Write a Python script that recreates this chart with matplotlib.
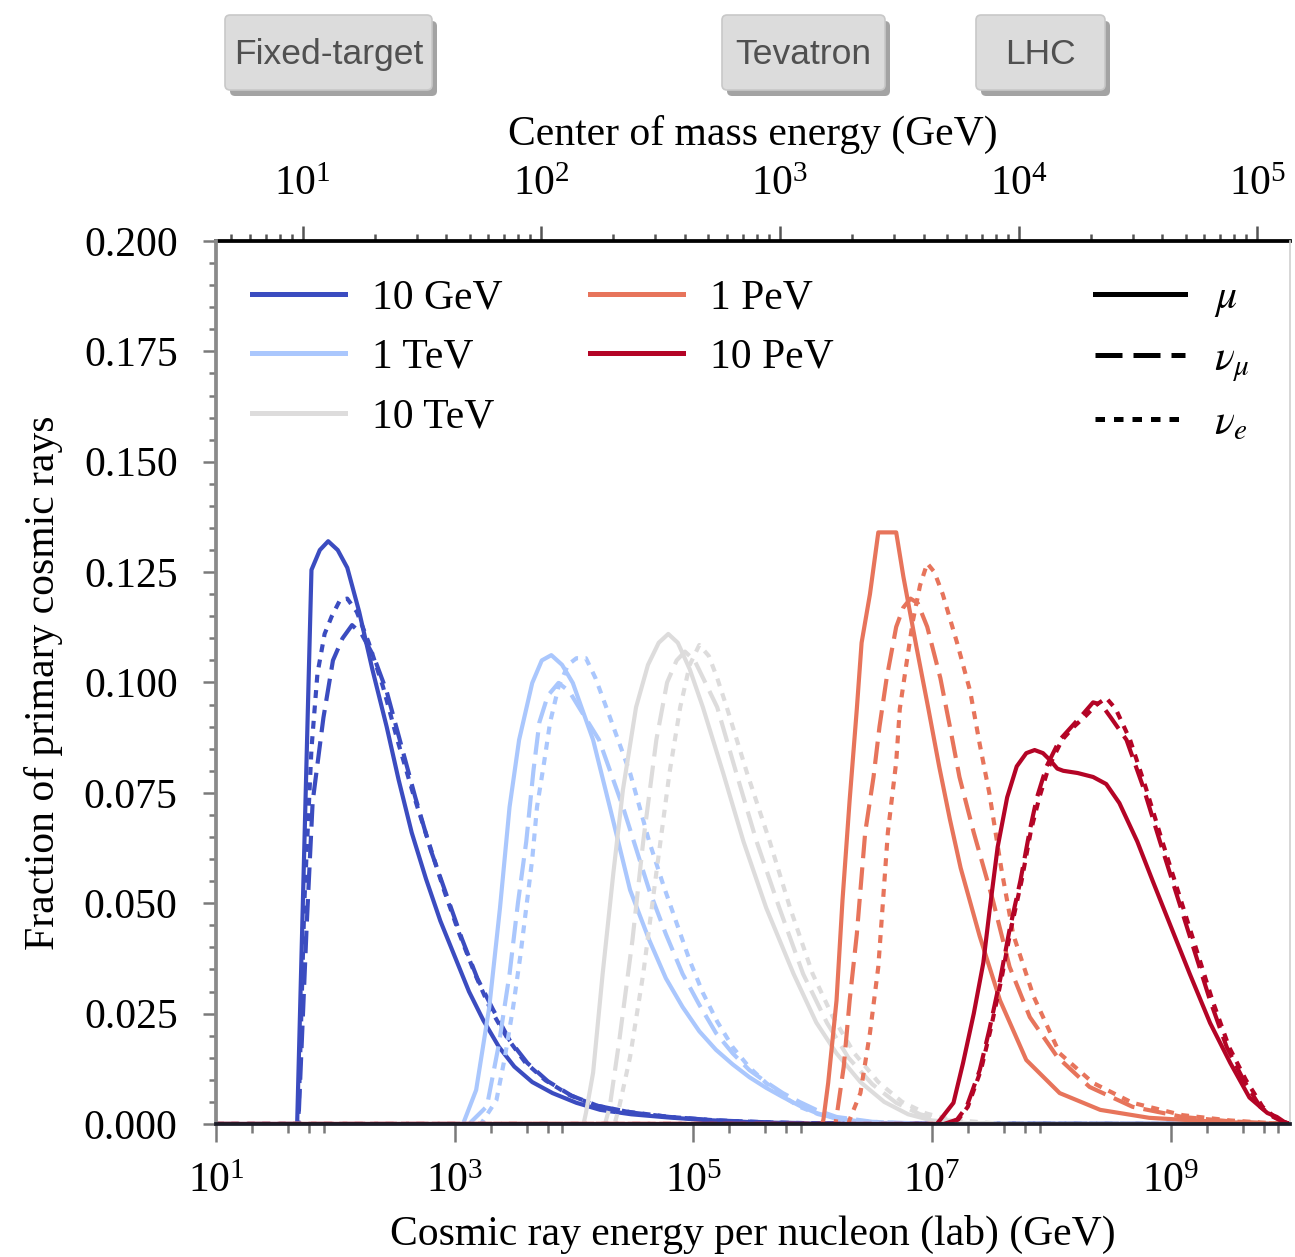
import numpy as np
import matplotlib
matplotlib.use("Agg")
import matplotlib.pyplot as plt
from matplotlib.lines import Line2D
from matplotlib.patches import FancyBboxPatch
from matplotlib.ticker import (FixedLocator, NullFormatter, LogFormatterSciNotation,
                               MultipleLocator, FormatStrFormatter)

plt.rcParams.update({
    "font.family": ["Liberation Serif", "DejaVu Serif"],
    "mathtext.fontset": "stix",
    "font.size": 10,
})

# ---------------------------------------------------------------------------
# Primary cosmic-ray energies (lepton energy bins) and their log10 values
primary_labels = ["10 GeV", "1 TeV", "10 TeV", "1 PeV", "10 PeV"]
primary_log10 = [1, 3, 4, 6, 7]
species = ["mu", "numu", "nue"]
species_labels = [r"$\mu$", r"$\nu_\mu$", r"$\nu_e$"]

# Fraction of primary cosmic rays vs log10(E_primary / GeV)
# --- 10 GeV leptons
logE_10GeV_mu = [1.0, 1.68, 1.80, 1.87, 1.94, 2.02, 2.10, 2.20, 2.31, 2.43, 2.53, 2.64, 2.76, 2.88,
                 3.00, 3.12, 3.24, 3.37, 3.50, 3.65, 3.82, 4.02, 4.22, 4.48, 4.78, 5.10, 5.50, 6.0, 10.0]
frac_10GeV_mu = [0, 0, 0.1255, 0.130, 0.132, 0.130, 0.126, 0.116, 0.103, 0.090, 0.078, 0.066, 0.0555,
                 0.046, 0.038, 0.030, 0.0235, 0.0175, 0.013, 0.0095, 0.007, 0.0048, 0.0032, 0.0022,
                 0.0015, 0.0009, 0.0004, 0.0001, 0]
logE_10GeV_numu = [1.0, 1.69, 1.76, 1.81, 1.90, 1.98, 2.06, 2.14, 2.22, 2.32, 2.43, 2.55, 2.67, 2.80, 2.93,
                   3.06, 3.19, 3.32, 3.46, 3.61, 3.78, 3.98, 4.20, 4.48, 4.80, 5.20, 5.70, 6.2, 10.0]
frac_10GeV_numu = [0, 0, 0.045, 0.073, 0.092, 0.105, 0.110, 0.113, 0.111, 0.106, 0.098, 0.086, 0.074, 0.062,
                   0.052, 0.042, 0.033, 0.026, 0.019, 0.0138, 0.0097, 0.0064, 0.0041, 0.0026, 0.0016,
                   0.0008, 0.0003, 0.0001, 0]
logE_10GeV_nue = [1.0, 1.69, 1.74, 1.80, 1.85, 1.91, 1.97, 2.04, 2.10, 2.18, 2.28, 2.40, 2.52, 2.65, 2.78,
                  2.91, 3.04, 3.17, 3.30, 3.44, 3.59, 3.76, 3.96, 4.18, 4.47, 4.80, 5.20, 5.70, 6.2, 10.0]
frac_10GeV_nue = [0, 0, 0.05, 0.085, 0.102, 0.111, 0.115, 0.1187, 0.119, 0.116, 0.109, 0.099, 0.087, 0.075,
                  0.064, 0.053, 0.043, 0.034, 0.026, 0.0195, 0.014, 0.0099, 0.0066, 0.0042, 0.0027, 0.0016,
                  0.0008, 0.0003, 0.0001, 0]

# --- 1 TeV leptons
logE_1TeV_mu = [1.0, 3.07, 3.18, 3.29, 3.38, 3.46, 3.54, 3.65, 3.73, 3.81, 3.90, 3.99, 4.16, 4.30, 4.47,
                4.63, 4.77, 4.91, 5.05, 5.19, 5.33, 5.47, 5.61, 5.75, 5.90, 6.03, 6.2, 6.5, 7.0, 10.0]
frac_1TeV_mu = [0, 0, 0.0077, 0.0265, 0.049, 0.0718, 0.087, 0.0999, 0.105, 0.1062, 0.104, 0.0999, 0.087,
                0.0718, 0.053, 0.0417, 0.033, 0.0265, 0.021, 0.0168, 0.0135, 0.0106, 0.0082, 0.0061, 0.004,
                0.0025, 0.0012, 0.0003, 0, 0]
logE_1TeV_numu = [1.0, 3.12, 3.27, 3.37, 3.46, 3.53, 3.60, 3.66, 3.71, 3.78, 3.87, 3.96, 4.05, 4.21, 4.41,
                  4.63, 4.77, 4.91, 5.05, 5.19, 5.33, 5.47, 5.61, 5.75, 5.89, 6.03, 6.2, 6.5, 7.0, 10.0]
frac_1TeV_numu = [0, 0, 0.004, 0.018, 0.034, 0.050, 0.064, 0.080, 0.091, 0.097, 0.0999, 0.098, 0.094, 0.087,
                  0.0718, 0.053, 0.043, 0.034, 0.027, 0.0206, 0.016, 0.0122, 0.0095, 0.007, 0.005, 0.0032,
                  0.0016, 0.0005, 0, 0]
logE_1TeV_nue = [1.0, 3.22, 3.35, 3.42, 3.49, 3.55, 3.60, 3.65, 3.69, 3.75, 3.80, 3.87, 3.95, 4.02, 4.10,
                 4.18, 4.30, 4.47, 4.63, 4.75, 4.86, 4.97, 5.08, 5.20, 5.33, 5.47, 5.61, 5.75, 5.89, 6.05,
                 6.3, 6.7, 7.2, 10.0]
frac_1TeV_nue = [0, 0, 0.0054, 0.015, 0.0265, 0.038, 0.049, 0.060, 0.0718, 0.082, 0.091, 0.099, 0.104,
                 0.1055, 0.1055, 0.101, 0.0922, 0.0795, 0.064, 0.054, 0.0455, 0.037, 0.0297, 0.0232, 0.0174,
                 0.0128, 0.0093, 0.0063, 0.0039, 0.0022, 0.0008, 0.0002, 0, 0]

# --- 10 TeV leptons
logE_10TeV_mu = [1.0, 4.08, 4.10, 4.16, 4.24, 4.33, 4.41, 4.52, 4.62, 4.71, 4.79, 4.87, 4.97, 5.08, 5.25,
                 5.42, 5.61, 5.84, 6.03, 6.2, 6.4, 6.6, 6.8, 7.0, 7.3, 7.6, 10.0]
frac_10TeV_mu = [0, 0, 0.0025, 0.0116, 0.034, 0.0569, 0.0757, 0.0944, 0.104, 0.109, 0.111, 0.109, 0.103,
                 0.0944, 0.0795, 0.064, 0.049, 0.034, 0.023, 0.016, 0.0095, 0.005, 0.0022, 0.0008, 0.0002,
                 0, 0]
logE_10TeV_numu = [1.0, 4.26, 4.30, 4.38, 4.49, 4.58, 4.69, 4.78, 4.86, 4.93, 5.01, 5.10, 5.20, 5.36, 5.53,
                   5.72, 5.92, 6.12, 6.3, 6.5, 6.7, 6.9, 7.1, 7.4, 7.7, 10.0]
frac_10TeV_numu = [0, 0, 0.004, 0.019, 0.0417, 0.064, 0.087, 0.100, 0.105, 0.107, 0.105, 0.100, 0.0944,
                   0.0795, 0.064, 0.049, 0.034, 0.0229, 0.015, 0.009, 0.0048, 0.0022, 0.0009, 0.0002, 0, 0]
logE_10TeV_nue = [1.0, 4.34, 4.38, 4.47, 4.58, 4.69, 4.80, 4.89, 4.97, 5.05, 5.13, 5.20, 5.28, 5.45, 5.64,
                  5.81, 6.00, 6.17, 6.35, 6.55, 6.75, 6.95, 7.15, 7.5, 7.8, 10.0]
frac_10TeV_nue = [0, 0, 0.004, 0.0152, 0.034, 0.0569, 0.0795, 0.0944, 0.104, 0.1085, 0.106, 0.101, 0.0944,
                  0.0795, 0.064, 0.049, 0.034, 0.0242, 0.016, 0.0095, 0.005, 0.0024, 0.001, 0.0002, 0, 0]

# --- 1 PeV leptons
logE_1PeV_mu = [1.0, 6.08, 6.09, 6.13, 6.20, 6.25, 6.31, 6.37, 6.41, 6.48, 6.55, 6.70, 6.76, 6.87, 6.97,
                7.06, 7.15, 7.24, 7.40, 7.57, 7.79, 8.07, 8.41, 8.82, 9.39, 9.8, 10.0]
frac_1PeV_mu = [0, 0, 0.001, 0.0093, 0.028, 0.0507, 0.0734, 0.094, 0.109, 0.120, 0.134, 0.134, 0.124,
                0.108, 0.094, 0.081, 0.069, 0.058, 0.0425, 0.028, 0.0145, 0.007, 0.0032, 0.0014, 0.0005,
                0.0001, 0]
logE_1PeV_numu = [1.0, 6.19, 6.20, 6.26, 6.31, 6.37, 6.44, 6.51, 6.56, 6.62, 6.70, 6.76, 6.82, 6.88, 6.96,
                  7.07, 7.15, 7.23, 7.35, 7.51, 7.65, 7.82, 8.05, 8.32, 8.68, 9.10, 9.5, 9.9, 10.0]
frac_1PeV_numu = [0, 0, 0.0016, 0.0129, 0.028, 0.043, 0.066, 0.0786, 0.090, 0.101, 0.1126, 0.117, 0.119,
                  0.118, 0.1126, 0.101, 0.090, 0.0786, 0.066, 0.0507, 0.0356, 0.0242, 0.0152, 0.0084,
                  0.0039, 0.0016, 0.0006, 0.0001, 0]
logE_1PeV_nue = [1.0, 6.30, 6.31, 6.40, 6.48, 6.55, 6.59, 6.63, 6.70, 6.73, 6.79, 6.84, 6.90, 6.96, 7.02,
                 7.09, 7.21, 7.32, 7.40, 7.48, 7.58, 7.68, 7.85, 8.07, 8.35, 8.68, 9.10, 9.5, 9.9, 10.0]
frac_1PeV_nue = [0, 0, 0.001, 0.007, 0.0206, 0.0356, 0.0507, 0.066, 0.082, 0.094, 0.105, 0.114, 0.122,
                 0.127, 0.125, 0.120, 0.109, 0.098, 0.086, 0.075, 0.058, 0.043, 0.029, 0.016, 0.0093,
                 0.0048, 0.002, 0.0008, 0.0001, 0]

# --- 10 PeV leptons
logE_10PeV_mu = [1.0, 7.04, 7.07, 7.18, 7.26, 7.35, 7.43, 7.48, 7.55, 7.63, 7.71, 7.79, 7.86, 7.93, 7.99,
                 8.05, 8.10, 8.22, 8.35, 8.46, 8.57, 8.72, 8.85, 8.99, 9.16, 9.33, 9.50, 9.66, 9.81, 9.89,
                 9.95, 10.0]
frac_10PeV_mu = [0, 0, 0.001, 0.0048, 0.0138, 0.025, 0.0365, 0.0478, 0.0627, 0.074, 0.081, 0.084, 0.0847,
                 0.084, 0.0824, 0.0805, 0.080, 0.0795, 0.0786, 0.077, 0.0727, 0.064, 0.055, 0.0455, 0.034,
                 0.0229, 0.0138, 0.006, 0.0025, 0.0016, 0.0005, 0]
logE_10PeV_numu = [1.0, 7.10, 7.21, 7.29, 7.40, 7.48, 7.57, 7.65, 7.74, 7.82, 7.88, 7.96, 8.07, 8.17, 8.27,
                   8.35, 8.42, 8.50, 8.63, 8.77, 8.91, 9.05, 9.19, 9.33, 9.47, 9.61, 9.75, 9.86, 9.95, 10.0]
frac_10PeV_numu = [0, 0, 0.001, 0.0039, 0.0122, 0.0213, 0.0326, 0.044, 0.055, 0.0666, 0.074, 0.081, 0.087,
                   0.090, 0.093, 0.0955, 0.095, 0.092, 0.087, 0.0763, 0.064, 0.052, 0.040, 0.028, 0.0174,
                   0.010, 0.0039, 0.0016, 0.0004, 0]
logE_10PeV_nue = [1.0, 7.12, 7.22, 7.30, 7.41, 7.49, 7.58, 7.66, 7.75, 7.83, 7.90, 7.98, 8.09, 8.19, 8.29,
                  8.38, 8.46, 8.54, 8.66, 8.79, 8.93, 9.07, 9.21, 9.35, 9.49, 9.63, 9.77, 9.87, 9.95, 10.0]
frac_10PeV_nue = [0, 0, 0.001, 0.0039, 0.0122, 0.0213, 0.0326, 0.044, 0.055, 0.0666, 0.074, 0.081, 0.087,
                  0.090, 0.0925, 0.095, 0.0965, 0.094, 0.087, 0.0763, 0.064, 0.052, 0.040, 0.028, 0.0174,
                  0.010, 0.0039, 0.0016, 0.0004, 0]

curves = {
    ("10 GeV", "mu"): (logE_10GeV_mu, frac_10GeV_mu),
    ("10 GeV", "numu"): (logE_10GeV_numu, frac_10GeV_numu),
    ("10 GeV", "nue"): (logE_10GeV_nue, frac_10GeV_nue),
    ("1 TeV", "mu"): (logE_1TeV_mu, frac_1TeV_mu),
    ("1 TeV", "numu"): (logE_1TeV_numu, frac_1TeV_numu),
    ("1 TeV", "nue"): (logE_1TeV_nue, frac_1TeV_nue),
    ("10 TeV", "mu"): (logE_10TeV_mu, frac_10TeV_mu),
    ("10 TeV", "numu"): (logE_10TeV_numu, frac_10TeV_numu),
    ("10 TeV", "nue"): (logE_10TeV_nue, frac_10TeV_nue),
    ("1 PeV", "mu"): (logE_1PeV_mu, frac_1PeV_mu),
    ("1 PeV", "numu"): (logE_1PeV_numu, frac_1PeV_numu),
    ("1 PeV", "nue"): (logE_1PeV_nue, frac_1PeV_nue),
    ("10 PeV", "mu"): (logE_10PeV_mu, frac_10PeV_mu),
    ("10 PeV", "numu"): (logE_10PeV_numu, frac_10PeV_numu),
    ("10 PeV", "nue"): (logE_10PeV_nue, frac_10PeV_nue),
}

# Accelerator reference labels shown above the figure
accelerators = ["Fixed-target", "Tevatron", "LHC"]

# ---------------------------------------------------------------------------
W, H, DPI = 1295, 1257, 300
fig = plt.figure(figsize=(W / DPI, H / DPI), dpi=DPI)
ax = fig.add_axes([216 / W, 1 - 1124 / H, (1290 - 216) / W, (1124 - 241) / H])

cmap = plt.get_cmap("coolwarm")
lo, hi = min(primary_log10), max(primary_log10)
colors = {lab: cmap((lg - lo) / (hi - lo)) for lab, lg in zip(primary_labels, primary_log10)}
styles = {"mu": "-", "numu": (0, (5.4, 2.2)), "nue": (0, (1.9, 1.8))}

for lab in primary_labels:
    for sp in species:
        lx, fr = curves[(lab, sp)]
        ax.plot(10.0 ** np.asarray(lx), fr, color=colors[lab], ls=styles[sp], lw=1.0)

ax.set_xscale("log")
ax.set_xlim(10, 1e10)
ax.set_ylim(0, 0.2)

# bottom axis ticks: every second decade
ax.xaxis.set_major_locator(FixedLocator([10.0 ** k for k in (1, 3, 5, 7, 9)]))
ax.xaxis.set_major_formatter(LogFormatterSciNotation())
ax.xaxis.set_minor_locator(FixedLocator([m * 10.0 ** k for k in (1, 3, 5, 7, 9) for m in (2, 4, 6, 8)]))
ax.xaxis.set_minor_formatter(NullFormatter())
ax.yaxis.set_major_locator(MultipleLocator(0.025))
ax.yaxis.set_minor_locator(MultipleLocator(0.005))
ax.yaxis.set_major_formatter(FormatStrFormatter("%.3f"))

tick_grey = "#7a7a7a"
ax.tick_params(axis="x", which="major", direction="out", length=4.2, width=0.6, color=tick_grey, pad=5)
ax.tick_params(axis="x", which="minor", direction="out", length=2.2, width=0.6, color=tick_grey)
ax.tick_params(axis="y", which="major", direction="out", length=3.2, width=0.6, color=tick_grey, pad=6)
ax.tick_params(axis="y", which="minor", direction="out", length=1.7, width=0.6, color=tick_grey)
ax.tick_params(top=False, right=False)

ax.spines["left"].set_color("#8a8a8a")
ax.spines["left"].set_linewidth(0.9)
ax.spines["bottom"].set_color("#1c1c28")
ax.spines["bottom"].set_linewidth(0.9)
ax.spines["right"].set_color("#d0d0d0")
ax.spines["right"].set_linewidth(0.4)
ax.spines["top"].set_visible(False)

ax.set_xlabel("Cosmic ray energy per nucleon (lab) (GeV)", labelpad=3.5)
ax.set_ylabel("Fraction of primary cosmic rays", labelpad=5)

# top axis: centre-of-mass energy for a proton target
m_p = 0.938


def lab_to_cm(E):
    return np.sqrt(2.0 * m_p * np.clip(E, 1e-30, None))


def cm_to_lab(s):
    return np.asarray(s) ** 2 / (2.0 * m_p)


sec = ax.secondary_xaxis("top", functions=(lab_to_cm, cm_to_lab))
sec.set_xlabel("Center of mass energy (GeV)", labelpad=5)
sec.tick_params(which="major", direction="out", length=3.6, width=0.6, color="#555555", pad=5.2)
sec.tick_params(which="minor", direction="out", length=1.8, width=0.6, color="#555555")
sec.spines["top"].set_color("black")
sec.spines["top"].set_linewidth(0.9)

# legends
color_handles = [Line2D([], [], color=colors[lab], lw=1.2) for lab in primary_labels]
leg1 = ax.legend(color_handles, primary_labels, ncol=2, loc="upper left",
                 bbox_to_anchor=(0.0335, 0.957), frameon=False, borderpad=0, borderaxespad=0,
                 handlelength=2.23, handletextpad=0.65, columnspacing=2.1, labelspacing=0.50)
ax.add_artist(leg1)
style_handles = [Line2D([], [], color="black", lw=1.2, ls=styles[sp]) for sp in species]
ax.legend(style_handles, species_labels, loc="upper left", bbox_to_anchor=(0.818, 0.957),
          frameon=False, borderpad=0, borderaxespad=0, handlelength=2.16, handletextpad=0.7,
          labelspacing=0.50)

# accelerator boxes above the top axis (pixel extents of each box)
box_px = [(225, 432), (722, 885), (976, 1105)]
box_top, box_bot = 15, 90
for name, (x0, x1) in zip(accelerators, box_px):
    fx0, fx1 = x0 / W, x1 / W
    fy0, fy1 = 1 - box_bot / H, 1 - box_top / H
    shadow = FancyBboxPatch((fx0 + 5 / W, fy0 - 6 / H), fx1 - fx0, fy1 - fy0,
                            boxstyle="round,pad=0,rounding_size=0.004", transform=fig.transFigure,
                            fc="#8c8c8c", ec="none", alpha=0.8)
    box = FancyBboxPatch((fx0, fy0), fx1 - fx0, fy1 - fy0,
                         boxstyle="round,pad=0,rounding_size=0.004", transform=fig.transFigure,
                         fc="#dcdcdc", ec="#c8c8c8", lw=0.4)
    fig.patches.extend([shadow, box])
    fig.text((fx0 + fx1) / 2, (fy0 + fy1) / 2 - 2 / H, name, ha="center", va="center",
             family="Liberation Sans", fontsize=8.5, color="#505050")

fig.savefig("out.png", dpi=DPI)
